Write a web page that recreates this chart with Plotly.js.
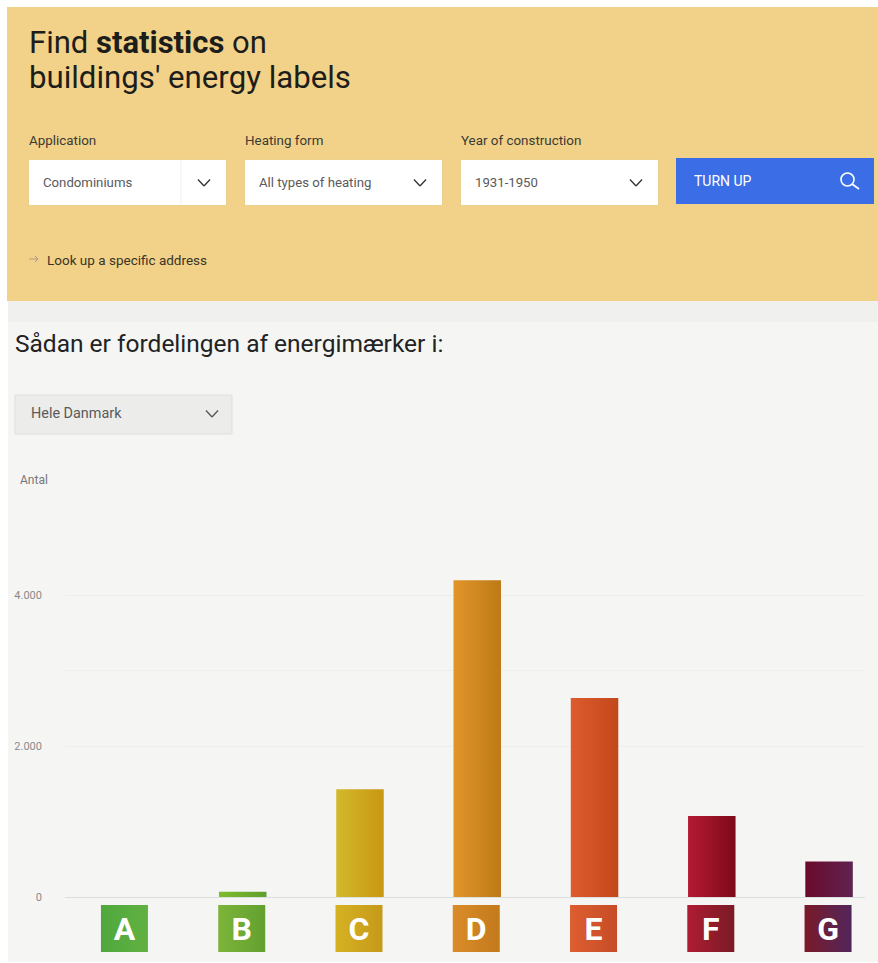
<!DOCTYPE html>
<html>
<head>
<meta charset="utf-8">
<script src="https://cdn.plot.ly/plotly-3.0.1.min.js"></script>
<style>html,body{margin:0;padding:0;background:#fff;overflow:hidden}#chart{width:878px;height:963px}</style>
</head>
<body>
<div id="chart"></div>
<script>
// ---- chart data
const labels = ['A','B','C','D','E','F','G'];
const counts = [0, 70, 1430, 4200, 2640, 1075, 470];
const yTickValues = [0, 2000, 3000, 4000, 5000];
const yTickLabels = ['0', '2.000', '', '4.000', ''];
const barGradients = [
  ['#4ea83f','#5fb040'],['#7fbc2e','#5f9f2c'],['#d2b92c','#c99712'],['#e3952a','#bd7a16'],
  ['#de5b2d','#c2481c'],['#b41b33','#7d0918'],['#6b0a2b','#5e2350']];
const badgeGradients = [
  ['#4fa83e','#61b141'],['#7db53a','#62a02f'],['#d5b222','#c6991a'],['#da8c28','#c37a1d'],
  ['#de5d30','#c64d27'],['#af1c33','#7a1b25'],['#7a1a28','#52265c']];

// ---- page text
const filterLabels = ['Application','Heating form','Year of construction'];
const filterValues = ['Condominiums','All types of heating','1931-1950'];

// ---- frame geometry: plot area in page pixels
const W = 878, H = 963, L = 65, R = 865, T = 520, B = 897;
const px = x => (x - L) / (R - L);
const py = y => (B - y) / (B - T);

const shapes = [];
const rect = (x0,y0,x1,y1,fill,line) => shapes.push({type:'rect',xref:'paper',yref:'paper',layer:'below',
  x0:px(x0),x1:px(x1),y0:py(y0),y1:py(y1),fillcolor:fill,line:{width:line?1:0,color:line||'rgba(0,0,0,0)'}});
const seg = (x0,y0,x1,y1,color,w) => shapes.push({type:'line',xref:'paper',yref:'paper',layer:'below',
  x0:px(x0),x1:px(x1),y0:py(y0),y1:py(y1),line:{color:color,width:w}});
const chevron = (cx,cy,color) => { seg(cx-6,cy-3.5,cx,cy+3,color,1.3); seg(cx,cy+3,cx+6,cy-3.5,color,1.3); };

// page panels
rect(7,7,W,301,'#f2d288');
rect(8,301,W,322,'#f0f0ee');
rect(8,322,W,962,'#f5f5f4');
// filter boxes
const boxX = [29,245,461];
boxX.forEach(x => { rect(x-1,159,x+198,206,'#ecd08e'); rect(x,160,x+197,205,'#ffffff'); chevron(x+175,183,'#333333'); });
seg(181,160,181,205,'#f0f0f0',1);
// button
rect(676,158,874,204,'#3b6ee6');
shapes.push({type:'circle',xref:'paper',yref:'paper',layer:'below',x0:px(841),x1:px(854),y0:py(173),y1:py(186),
  fillcolor:'rgba(0,0,0,0)',line:{color:'#ffffff',width:1.6}});
seg(852,184,859,189,'#ffffff',1.8);
// link arrow
seg(29,259,38,259,'#b79a8c',1); seg(35,256,38,259,'#a78fae',1); seg(38,259,35,262,'#a78fae',1);
// region selector
rect(15,395,232,434,'#ececeb','#dfdfde');
chevron(212,414,'#555555');

// letter badges behind the x axis tick labels (one per category)
const badgeStart = shapes.length;
labels.forEach((c,i) => shapes.push({type:'rect',xref:'x',yref:'paper',layer:'below',xsizemode:'pixel',ysizemode:'pixel',
  xanchor:c,yanchor:0,x0:-23.5,x1:23.5,y0:-8,y1:-55,fillcolor:badgeGradients[i][0],line:{width:0}}));

const note = (x,y,text,size,color,extra) => Object.assign({xref:'paper',yref:'paper',x:px(x),y:py(y),text:text,showarrow:false,
  xanchor:'left',yanchor:'middle',borderpad:0,font:{family:'Roboto, sans-serif',size:size,color:color}},extra||{});

const annotations = [
  note(28,42,'Find <b>statistics</b> on',31,'#1d1d1b'),
  note(28,78,"buildings' energy labels",31.2,'#1d1d1b'),
  note(46,260,'Look up a specific address',13.5,'#3a3428'),
  note(693,181,'TURN UP',14,'#ffffff'),
  note(14,343,'Sådan er fordelingen af energimærker i:',24.5,'#222222'),
  note(30,413,'Hele Danmark',14.4,'#5a5a5a'),
  note(19,480,'Antal',12,'#777777')
];
filterLabels.forEach((t,i) => annotations.push(note(boxX[i]-1,140,t,13.4,'#3a3a36')));
filterValues.forEach((t,i) => annotations.push(note(boxX[i]+13,182,t,13.2,'#5a5a5a')));

const barSlot = 0.405;
const trace = {
  type:'bar', x:labels, y:counts, width:barSlot, offset:-barSlot/2+0.0085,
  marker:{color:barGradients.map(g=>g[0]),line:{width:0}}, hoverinfo:'x+y'
};

const layout = {
  width:W, height:H, autosize:false, showlegend:false,
  paper_bgcolor:'#ffffff', plot_bgcolor:'rgba(0,0,0,0)',
  margin:{l:L,r:W-R,t:T,b:H-B,pad:0},
  font:{family:'Roboto, sans-serif'},
  xaxis:{type:'category',categoryorder:'array',categoryarray:labels,range:[-0.507,6.315],fixedrange:true,
    showgrid:false,showline:true,linecolor:'#dcdfe0',linewidth:1,ticks:'',zeroline:false,
    tickfont:{family:'Roboto, sans-serif',size:32,color:'#ffffff',weight:700},ticklabelstandoff:4,automargin:false},
  yaxis:{range:[0,5000],fixedrange:true,tickmode:'array',tickvals:yTickValues,ticktext:yTickLabels,
    showgrid:true,gridcolor:'#eeeeed',gridwidth:1,zeroline:false,showline:false,ticks:'',
    tickfont:{family:'Roboto, sans-serif',size:11,color:'#8a8a8a'},ticklabelstandoff:22,automargin:false},
  shapes:shapes, annotations:annotations
};

Plotly.newPlot('chart',[trace],layout,{displayModeBar:false,staticPlot:false}).then(gd => {
  // left-to-right colour fade on the bars and badges
  const svg = gd.querySelector('svg.main-svg');
  const NS = 'http://www.w3.org/2000/svg';
  const defs = svg.querySelector('defs') || svg.insertBefore(document.createElementNS(NS,'defs'),svg.firstChild);
  const grad = (id,c) => {
    const g = document.createElementNS(NS,'linearGradient');
    g.setAttribute('id',id); g.setAttribute('x1','0'); g.setAttribute('x2','1'); g.setAttribute('y1','0'); g.setAttribute('y2','0');
    c.forEach((col,i) => { const s = document.createElementNS(NS,'stop'); s.setAttribute('offset',i?'1':'0'); s.setAttribute('stop-color',col); g.appendChild(s); });
    defs.appendChild(g); return 'url(#'+id+')';
  };
  gd.querySelectorAll('.bars .point path').forEach((p,i) => { p.style.fill = grad('barg'+i,barGradients[i]); });
  labels.forEach((c,i) => {
    const p = gd.querySelector('.layer-below .shapelayer path[data-index="'+(badgeStart+i)+'"]');
    if (p) p.style.fill = grad('badgeg'+i,badgeGradients[i]);
  });
});
</script>
</body>
</html>
